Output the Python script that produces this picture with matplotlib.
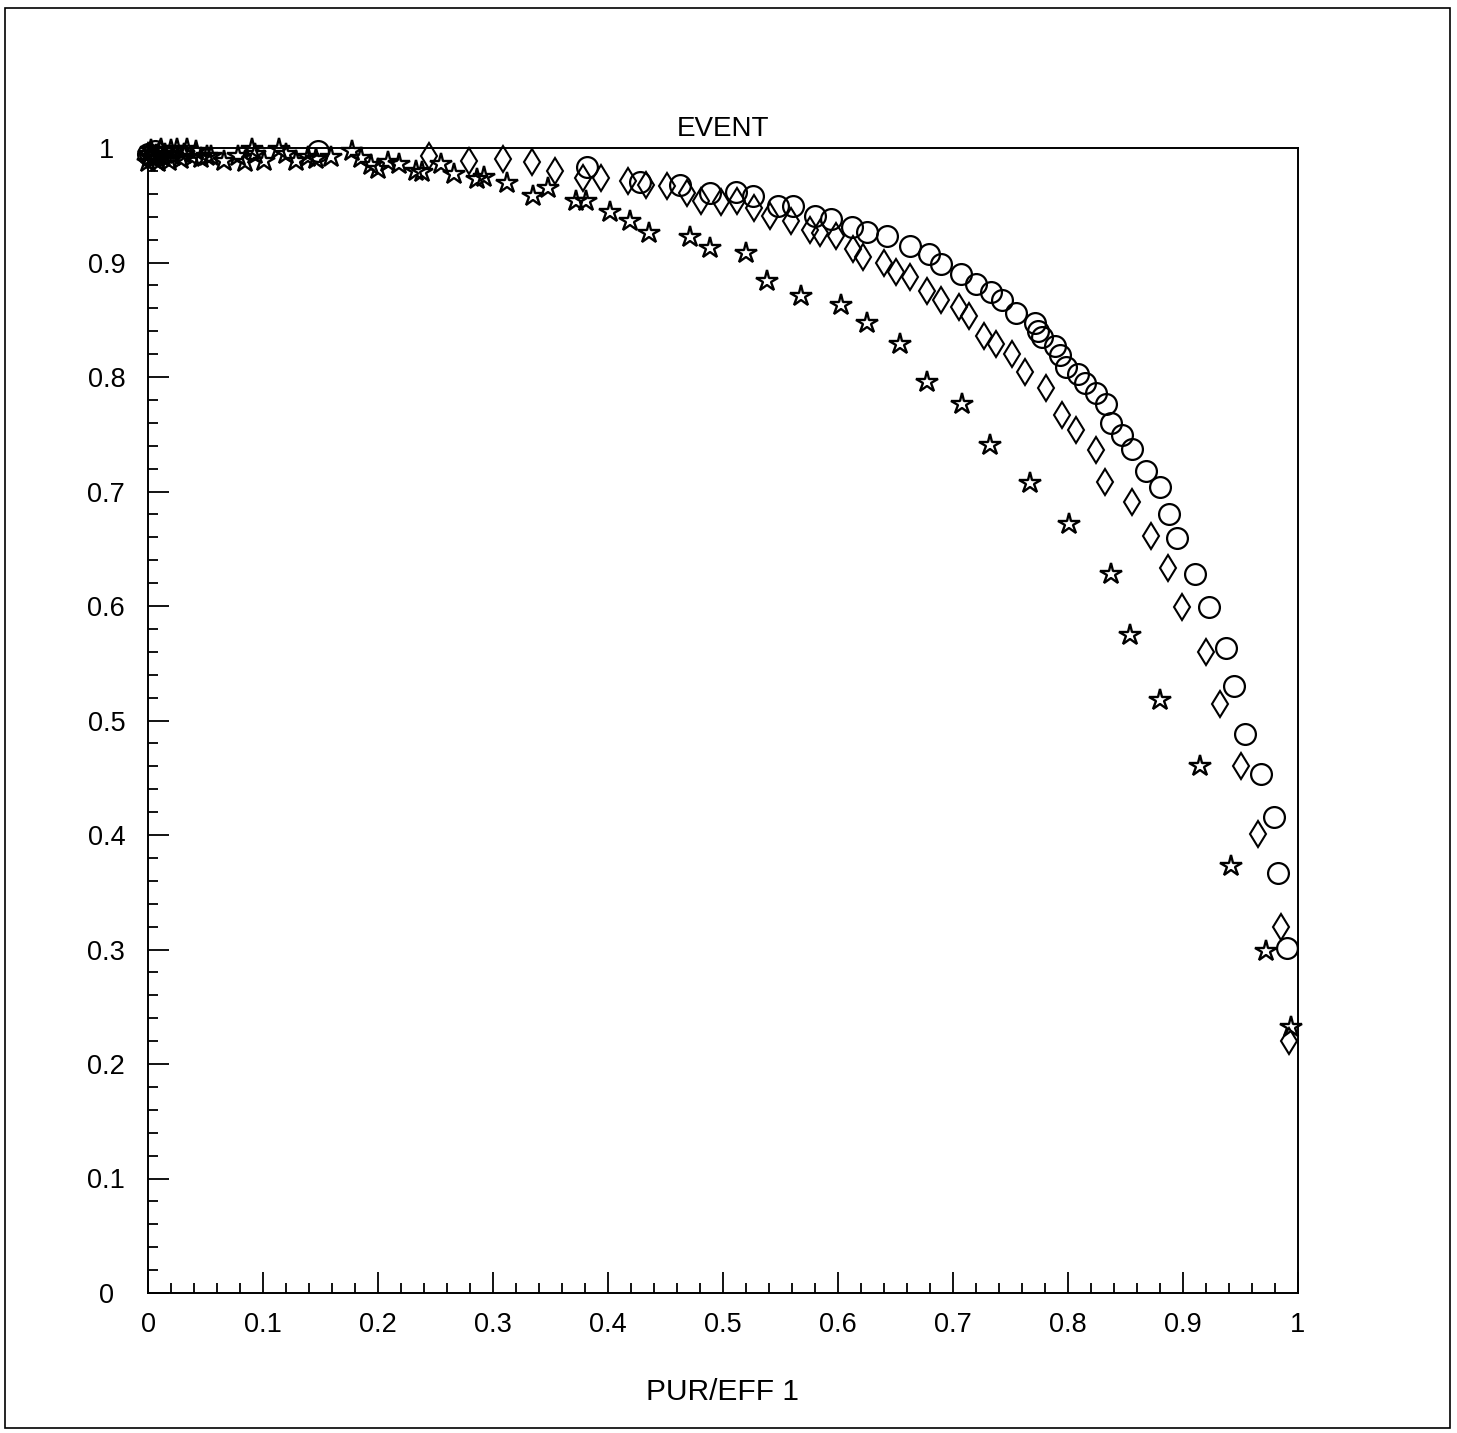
import matplotlib
matplotlib.use("Agg")
import matplotlib.pyplot as plt
from matplotlib.ticker import MultipleLocator, FixedLocator
from matplotlib.patches import Rectangle

plt.rcParams['font.family'] = ['Liberation Sans', 'DejaVu Sans']

# ---- data ----
circ_x = [0.000, 0.006, 0.148, 0.382, 0.428, 0.463, 0.489, 0.511, 0.526, 0.548, 0.561,
          0.580, 0.594, 0.612, 0.625, 0.643, 0.663, 0.679, 0.690, 0.707, 0.720,
          0.733, 0.743, 0.755, 0.771, 0.774, 0.777, 0.789, 0.793, 0.798, 0.809,
          0.815, 0.824, 0.833, 0.837, 0.847, 0.856, 0.868, 0.880, 0.888, 0.895,
          0.910, 0.923, 0.937, 0.944, 0.954, 0.968, 0.979, 0.983, 0.990]
circ_y = [0.995, 0.997, 0.997, 0.983, 0.970, 0.968, 0.961, 0.962, 0.958, 0.949, 0.949,
          0.941, 0.938, 0.931, 0.927, 0.923, 0.914, 0.907, 0.899, 0.890, 0.881,
          0.874, 0.867, 0.856, 0.847, 0.840, 0.835, 0.827, 0.819, 0.809, 0.803,
          0.795, 0.786, 0.776, 0.760, 0.749, 0.737, 0.718, 0.704, 0.680, 0.659,
          0.628, 0.599, 0.563, 0.530, 0.488, 0.453, 0.416, 0.367, 0.301]

diam_x = [0.000, 0.010, 0.244, 0.279, 0.309, 0.334, 0.354, 0.378, 0.394, 0.417, 0.433,
          0.451, 0.469, 0.481, 0.498, 0.512, 0.527, 0.541, 0.559, 0.576, 0.584,
          0.598, 0.613, 0.622, 0.640, 0.650, 0.663, 0.677, 0.690, 0.705, 0.714,
          0.727, 0.737, 0.751, 0.763, 0.781, 0.795, 0.807, 0.824, 0.832, 0.856,
          0.872, 0.887, 0.899, 0.920, 0.932, 0.950, 0.965, 0.985, 0.992]
diam_y = [0.993, 0.995, 0.993, 0.989, 0.990, 0.988, 0.980, 0.974, 0.974, 0.971, 0.968,
          0.967, 0.961, 0.954, 0.953, 0.954, 0.948, 0.941, 0.936, 0.928, 0.926,
          0.923, 0.912, 0.905, 0.900, 0.892, 0.887, 0.875, 0.867, 0.861, 0.853,
          0.836, 0.829, 0.820, 0.804, 0.790, 0.767, 0.754, 0.736, 0.708, 0.691,
          0.661, 0.633, 0.599, 0.560, 0.514, 0.460, 0.401, 0.320, 0.220]

star_x = [0.000, 0.001, 0.002, 0.003, 0.005, 0.007, 0.009, 0.011, 0.013, 0.015, 0.018,
          0.020, 0.022, 0.025, 0.029, 0.031, 0.034, 0.038, 0.042, 0.046, 0.051,
          0.055, 0.066, 0.078, 0.084, 0.090, 0.093, 0.101, 0.114, 0.120, 0.129,
          0.139, 0.146, 0.159, 0.177, 0.185, 0.194, 0.200, 0.209, 0.218, 0.233,
          0.238, 0.255, 0.266, 0.286, 0.292, 0.312, 0.335, 0.348, 0.372, 0.381,
          0.402, 0.419, 0.436, 0.471, 0.489, 0.520, 0.538, 0.568, 0.603, 0.625,
          0.654, 0.677, 0.708, 0.732, 0.767, 0.801, 0.837, 0.854, 0.880, 0.915,
          0.942, 0.972, 0.994]
star_y = [0.988, 0.995, 0.992, 0.998, 0.990, 0.994, 0.988, 0.999, 0.992, 0.995, 0.989,
          0.998, 0.993, 0.999, 0.990, 0.995, 0.999, 0.992, 0.997, 0.991, 0.993,
          0.993, 0.989, 0.993, 0.988, 0.999, 0.995, 0.989, 0.999, 0.995, 0.989,
          0.992, 0.990, 0.992, 0.997, 0.991, 0.985, 0.982, 0.988, 0.986, 0.980,
          0.979, 0.986, 0.977, 0.973, 0.975, 0.969, 0.958, 0.965, 0.954, 0.954,
          0.944, 0.936, 0.926, 0.922, 0.913, 0.908, 0.884, 0.871, 0.863, 0.847,
          0.829, 0.796, 0.776, 0.741, 0.707, 0.672, 0.628, 0.575, 0.518, 0.460,
          0.373, 0.299, 0.232]

x_ticks = [0, 0.1, 0.2, 0.3, 0.4, 0.5, 0.6, 0.7, 0.8, 0.9, 1]
x_ticklabels = ["0", "0.1", "0.2", "0.3", "0.4", "0.5", "0.6", "0.7", "0.8", "0.9", "1"]
y_ticks = x_ticks
y_ticklabels = x_ticklabels
title_text = "EVENT"
xlabel_text = "PUR/EFF 1"

# ---- figure ----
W, H = 1457, 1433
fig = plt.figure(figsize=(W / 100, H / 100), dpi=100)
fig.patch.set_facecolor("white")

# outer frame
fig.patches.append(Rectangle((5 / W, 1 - 1428 / H), 1445 / W, 1420 / H,
                             transform=fig.transFigure, fill=False,
                             edgecolor="black", linewidth=1.2))

ax = fig.add_axes([148 / W, 1 - 1293 / H, 1150 / W, 1145 / H])
ax.set_xlim(0, 1)
ax.set_ylim(0, 1)

mk = dict(linestyle="none", markerfacecolor="none", markeredgecolor="black",
          clip_on=False, zorder=3)
ax.plot(circ_x, circ_y, marker="o", markersize=15, markeredgewidth=1.6, **mk)
ax.plot(diam_x, diam_y, marker="d", markersize=13.5, markeredgewidth=1.5, **mk)
ax.plot(star_x, star_y, marker="*", markersize=16, markeredgewidth=1.7, **mk)

for s in ax.spines.values():
    s.set_linewidth(1.4)

ax.xaxis.set_major_locator(FixedLocator(x_ticks))
ax.yaxis.set_major_locator(FixedLocator(y_ticks))
ax.xaxis.set_minor_locator(MultipleLocator(0.02))
ax.yaxis.set_minor_locator(MultipleLocator(0.02))
ax.set_xticklabels(x_ticklabels)
ax.set_yticklabels(y_ticklabels)
ax.tick_params(which="both", direction="in", top=False, right=False, width=1.3)
ax.tick_params(which="major", length=15)
ax.tick_params(which="minor", length=7.5)
ax.tick_params(axis="x", which="major", labelsize=19.5, pad=14)
ax.tick_params(axis="y", which="major", labelsize=19.5, pad=30)
for lab in ax.get_yticklabels():
    lab.set_horizontalalignment("center")

ax.set_title(title_text, fontsize=20, pad=9)
fig.text(722 / W, 1 - 1392 / H, xlabel_text, ha="center", va="center", fontsize=21.5)

fig.savefig("out.png", dpi=100, facecolor="white")
